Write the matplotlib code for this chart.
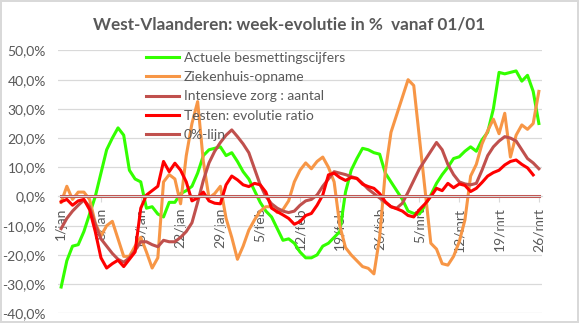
import numpy as np
import matplotlib
matplotlib.use('Agg')
import matplotlib.pyplot as plt
from matplotlib.ticker import FuncFormatter

plt.rcParams['font.family'] = ['Lato', 'DejaVu Sans']

# dagelijkse week-evolutie (%) vanaf 1 januari
dagen = np.arange(85)
datum_posities = np.arange(0, 85, 7)
datum_labels = ['1/jan', '8/jan', '15/jan', '22/jan', '29/jan', '5/feb', '12/feb',
                '19/feb', '26/feb', '5/mrt', '12/mrt', '19/mrt', '26/mrt']

besmettingen = [-31, -22, -17, -16.5, -12, -6, 0, 8, 16, 20,
                23.5, 21, 9, 6, 5, -4, -3.5, -6, -7, -2,
                -2, 1, 2, 3.5, 8, 14, 16, 16.5, 17, 14,
                15, 12, 8.5, 6, 2, -2, -5, -7, -11, -15,
                -14.5, -16, -19, -21, -21, -20, -17, -16, -14, -12,
                1.5, 9, 13, 16.5, 16, 15, 14.5, 8, 5, 2,
                -1, -5, -5.8, -6, -3, 0.5, 4.5, 7.5, 10, 13,
                13.6, 15.5, 17, 15.5, 19.4, 22, 30, 42.5, 42, 42.5,
                43, 39.5, 41.5, 36, 25]

ziekenhuis = [-2, 3.5, -1, 1.5, 1.5, -1, -9, -13.5, -10, -8.5,
              -14.5, -20.5, -20.5, -17, -14, -19, -24.5, -21, 5, 7.5,
              6, -2.5, 14, 25, 32.5, 12, -0.5, 1, 3.5, -7.5,
              -14, -21.5, -17, -11.5, -8, -5, -3.5, -3.5, -5.5, -4.5,
              -1.5, 5, 9, 11.5, 9.5, 12, 13.5, 10, 5, -10,
              -17.5, -20, -22, -24, -24.6, -26.5, -14, 8.5, 22, 28,
              34, 40, 38, 20, 2, -16, -18, -23, -23.5, -20.5,
              -15.5, -8, 7, 11, 18, 22.5, 26.5, 21.5, 28.5, 13.5,
              21, 24.5, 23, 25, 36]

intensieve_zorg = [-11, -7.5, -5, -3, -1.2, -3.5, -9.5, -14.5, -17, -19.5,
                   -21.5, -22.5, -21, -18.5, -15.5, -15.5, -16.5, -17.2, -15, -15.5,
                   -15.5, -14, -12, -9, -2, 5.5, 11.5, 15.5, 18.5, 21,
                   22.8, 20.5, 18, 15, 9.5, 4, 0, -2.5, -4, -5,
                   -5.5, -5, -3, -1.5, -1, 0.5, 3.5, 6, 8.5, 8,
                   7.5, 6.8, 6.2, 4.5, 2.5, 1, -0.5, -2, -3.5, -4,
                   -2.3, 1.5, 5.5, 9.5, 12.5, 15.5, 18.5, 16, 11, 7.5,
                   5, 4.3, 4, 4.5, 9, 14, 17, 19, 20.5, 20,
                   19, 16, 13, 11.5, 9.5]

testen = [-1.8, -1, -3, -1.5, -1, -4.5, -12, -21, -24.5, -23,
          -21.8, -24, -21.5, -19, -4, 0.5, 2, 3.5, 12, 8.5,
          11.4, 9, 5, -1.5, -0.5, 1.5, -1.5, -2.3, -2.5, 4,
          7, 5.7, 4, 3.4, 4.5, 4, 1.5, -4, -5.2, -6.3,
          -7.5, -9.5, -8.6, -6.5, -5.8, -3, 0.5, 7.4, 8, 6.5,
          5.5, 6.5, 6.2, 4.2, 3.4, 2.8, 1, -1.8, -3.5, -4.2,
          -5, -6.5, -7, -4.5, -2.5, 0, 2.8, 2, 4.5, 3,
          4.3, 3.8, 1.7, 2.8, 4.8, 7, 8.2, 9, 10.8, 12,
          12.5, 11, 9.8, 7.4, np.nan]

nul_lijn = [0.0] * 85

reeksen = [
    ('Actuele besmettingscijfers', besmettingen, '#33ff00'),
    ('Ziekenhuis-opname', ziekenhuis, '#f79646'),
    ('Intensieve zorg : aantal', intensieve_zorg, '#c0504d'),
    ('Testen: evolutie ratio', testen, '#ff0000'),
    ('0%-lijn', nul_lijn, '#c0504d'),
]

grijs = '#595959'

fig = plt.figure(figsize=(5.79, 3.23), dpi=100)
fig.patch.set_edgecolor('#d9d9d9')
fig.patch.set_linewidth(1.5)
ax = fig.add_axes([0.1007, 0.030, 0.8349, 0.8137])

for naam, waarden, kleur in reeksen:
    ax.plot(dagen, waarden, color=kleur, lw=2.2, label=naam, solid_joinstyle='round')

ax.set_xlim(-0.5, 84.5)
ax.set_ylim(-40, 50)
ax.set_yticks(np.arange(-40, 51, 10))
ax.yaxis.set_major_formatter(FuncFormatter(lambda v, p: f'{v:.1f}%'.replace('.', ',')))
ax.grid(axis='y', color='#d9d9d9', lw=0.9)
ax.set_axisbelow(True)

for kant in ['left', 'right', 'top']:
    ax.spines[kant].set_visible(False)
ax.spines['bottom'].set_position(('data', 0))
ax.spines['bottom'].set_color('#d9d9d9')

ax.set_xticks(datum_posities)
ax.set_xticklabels(datum_labels, rotation=90)
ax.tick_params(axis='x', length=4, color='#d9d9d9', labelcolor=grijs,
               labelsize=10, pad=4)
ax.tick_params(axis='y', length=0, labelcolor=grijs, labelsize=10, pad=9)

fig.text(0.5, 0.923, 'West-Vlaanderen: week-evolutie in %  vanaf 01/01',
         ha='center', va='center', fontsize=12.3, fontweight='bold', color=grijs)

ax.legend(loc='upper left', bbox_to_anchor=(146 / 579, 1 - 52 / 323),
          bbox_transform=fig.transFigure, frameon=False, fontsize=10,
          handlelength=2.4, handletextpad=0.3, labelspacing=0.52, borderpad=0,
          borderaxespad=0, labelcolor=grijs)

fig.savefig('out.png', dpi=100)
